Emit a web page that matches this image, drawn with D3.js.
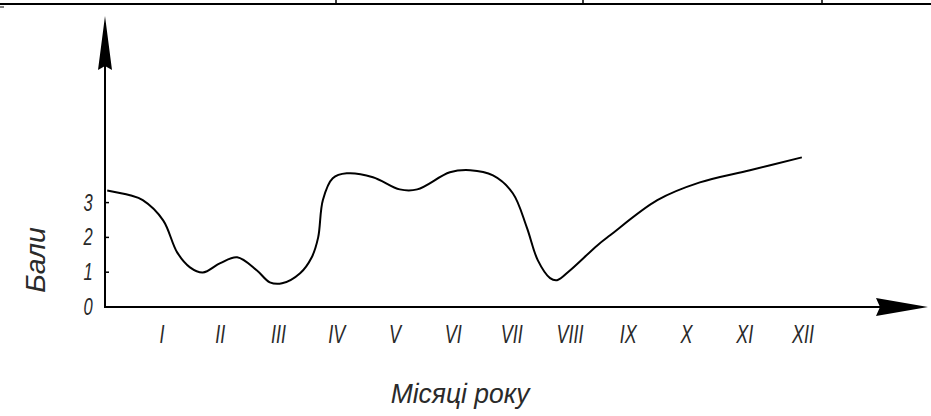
<!DOCTYPE html>
<html><head><meta charset="utf-8">
<script src="https://cdn.jsdelivr.net/npm/d3@7"></script>
<style>
html,body{margin:0;padding:0;background:#fff;}
svg{display:block;}
.lbl{font-family:"Liberation Sans",Arial,sans-serif;font-style:italic;fill:#2a2a2a;}
</style></head>
<body>
<script>
const months = ["I","II","III","IV","V","VI","VII","VIII","IX","X","XI","XII"];
const yTicks = [0,1,2,3];
const curveMonth = [0.06,0.45,0.67,1.02,1.26,1.48,1.70,2.0,2.29,2.63,2.85,3.06,3.37,3.57,3.68,3.76,3.93,4.17,4.62,5.08,5.38,5.94,6.29,6.68,7.02,7.26,7.45,7.66,7.78,8.0,8.47,8.69,9.50,10.23,11.09,11.98];
const curveValue = [3.35,3.21,3.07,2.49,1.57,1.14,0.99,1.26,1.43,1.05,0.71,0.68,0.97,1.43,2.0,3.07,3.70,3.84,3.73,3.38,3.38,3.87,3.93,3.78,3.27,2.29,1.34,0.83,0.77,1.05,1.77,2.06,3.07,3.58,3.93,4.30];
const xTitle = "Місяці року";
const yTitle = "Бали";

const W = 931, H = 416;
const svg = d3.select("body").append("svg").attr("width", W).attr("height", H);

const x = d3.scaleLinear().domain([1,12]).range([162,803]);
const y = d3.scaleLinear().domain([0,3]).range([307,202.6]);
const axisX = 105;
const SX = 0.72;

// top table border
svg.append("line").attr("x1",0).attr("x2",W).attr("y1",4).attr("y2",4).attr("stroke","#000").attr("stroke-width",2);
[336,583,822].forEach(px => svg.append("line").attr("x1",px).attr("x2",px).attr("y1",0).attr("y2",4).attr("stroke","#000").attr("stroke-width",1.5));
svg.append("line").attr("x1",0).attr("x2",4).attr("y1",7).attr("y2",7).attr("stroke","#000").attr("stroke-width",1);

// axes lines
svg.append("line").attr("x1",axisX).attr("x2",axisX).attr("y1",y(0)+1).attr("y2",60).attr("stroke","#000").attr("stroke-width",2);
svg.append("line").attr("x1",axisX).attr("x2",880).attr("y1",y(0)).attr("y2",y(0)).attr("stroke","#000").attr("stroke-width",2);
// arrowheads
svg.append("path").attr("d",`M${axisX},16 L${axisX+7},70 L${axisX},66 L${axisX-7},70 Z`).attr("fill","#000");
svg.append("path").attr("d",`M928,${y(0)} L876,${y(0)-9} L880,${y(0)} L876,${y(0)+9} Z`).attr("fill","#000");

// y ticks
svg.selectAll(".yt").data(yTicks.filter(d=>d>0)).enter().append("line")
  .attr("x1",axisX).attr("x2",axisX+4).attr("y1",d=>y(d)).attr("y2",d=>y(d))
  .attr("stroke","#000").attr("stroke-width",1.5);
svg.selectAll(".ytl").data(yTicks).enter().append("text").attr("class","lbl")
  .attr("transform",d=>`translate(88,${y(d)+8}) scale(${SX},1)`).attr("text-anchor","middle")
  .attr("font-size",23).text(d=>d);

// month labels
svg.selectAll(".xl").data(months).enter().append("text").attr("class","lbl")
  .attr("transform",(d,i)=>`translate(${x(i+1)},343) scale(${SX},1)`).attr("text-anchor","middle")
  .attr("font-size",25).text(d=>d);

// curve
const pts = curveMonth.map((m,i)=>[m,curveValue[i]]);
const line = d3.line().x(d=>x(d[0])).y(d=>y(d[1])).curve(d3.curveCatmullRom.alpha(0.5));
svg.append("path").attr("d",line(pts)).attr("fill","none").attr("stroke","#000").attr("stroke-width",2);

// titles
svg.append("text").attr("class","lbl").attr("transform",`translate(460,403) scale(0.98,1)`).attr("text-anchor","middle")
  .attr("font-size",27).text(xTitle);
svg.append("text").attr("class","lbl").attr("transform",`translate(45,260) rotate(-90) scale(1.05,1)`)
  .attr("text-anchor","middle").attr("font-size",27).text(yTitle);
</script>
</body></html>
